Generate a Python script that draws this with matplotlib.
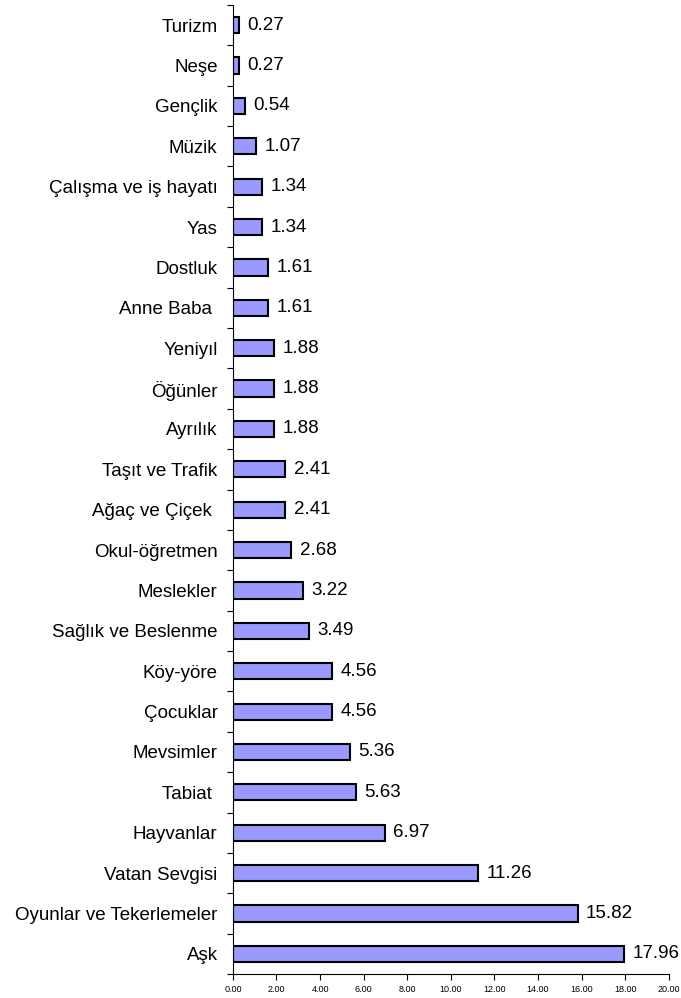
import matplotlib
matplotlib.use("Agg")
import matplotlib.pyplot as plt
import matplotlib.ticker as mticker
import numpy as np

plt.rcParams["font.family"] = ["Liberation Sans", "DejaVu Sans"]

# bottom to top
categories = [
    "Aşk", "Oyunlar ve Tekerlemeler", "Vatan Sevgisi", "Hayvanlar", "Tabiat ",
    "Mevsimler", "Çocuklar", "Köy-yöre", "Sağlık ve Beslenme", "Meslekler",
    "Okul-öğretmen", "Ağaç ve Çiçek ", "Taşıt ve Trafik", "Ayrılık", "Öğünler",
    "Yeniyıl", "Anne Baba ", "Dostluk", "Yas", "Çalışma ve iş hayatı",
    "Müzik", "Gençlik", "Neşe", "Turizm",
]
values = [
    17.96, 15.82, 11.26, 6.97, 5.63,
    5.36, 4.56, 4.56, 3.49, 3.22,
    2.68, 2.41, 2.41, 1.88, 1.88,
    1.88, 1.61, 1.61, 1.34, 1.34,
    1.07, 0.54, 0.27, 0.27,
]
x_ticks = [0, 2, 4, 6, 8, 10, 12, 14, 16, 18, 20]

fig = plt.figure(figsize=(6.81, 9.98), dpi=100)
ax = fig.add_axes([0.342, 0.024, 0.640, 0.971])

pos = np.arange(len(categories))
ax.barh(pos, values, height=0.4, color="#9999FF", edgecolor="black", linewidth=1.5)

# value labels just past the bar ends
for p, v in zip(pos, values):
    ax.annotate(f"{v:.2f}", xy=(v, p), xytext=(6, 0), textcoords="offset points",
                ha="left", va="center", fontsize=13.5)

ax.set_ylim(-0.5, len(categories) - 0.5)
ax.set_xlim(0, 20)
ax.set_yticks(pos)
ax.set_yticklabels(categories, fontsize=13.5)
ax.yaxis.set_minor_locator(mticker.FixedLocator(np.arange(-0.5, len(categories), 1)))
ax.tick_params(axis="y", which="major", length=0, pad=11)
ax.tick_params(axis="y", which="minor", length=4, width=0.8, direction="out")

ax.set_xticks(x_ticks)
ax.xaxis.set_major_formatter(mticker.FuncFormatter(lambda x, _: f"{x:.2f}"))
ax.tick_params(axis="x", labelsize=6.5, length=4, width=0.8, direction="out", pad=4)

ax.spines["top"].set_visible(False)
ax.spines["right"].set_visible(False)
ax.spines["left"].set_linewidth(0.8)
ax.spines["bottom"].set_linewidth(0.8)

fig.savefig("out.png", dpi=100, facecolor="white")
plt.close(fig)
